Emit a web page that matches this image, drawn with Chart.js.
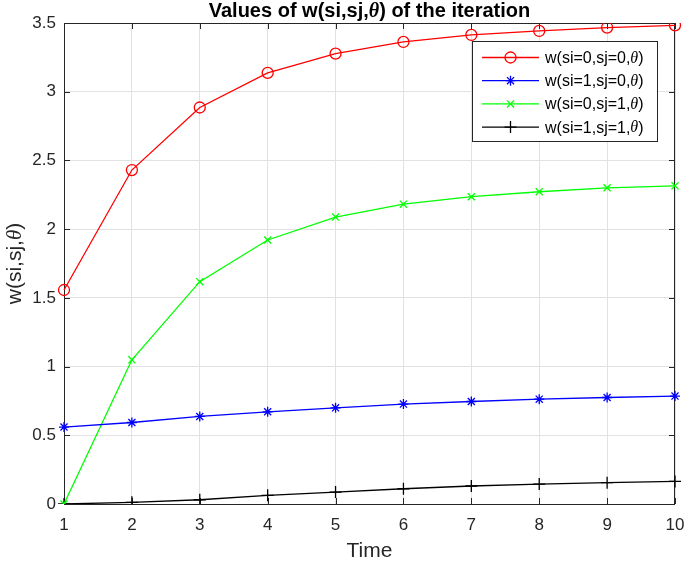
<!DOCTYPE html>
<html>
<head>
<meta charset="utf-8">
<script src="https://cdn.jsdelivr.net/npm/chart.js@4/dist/chart.umd.min.js"></script>
<style>
  body { margin: 0; background: #fff; }
  #wrap { width: 685px; height: 561px; }
</style>
</head>
<body>
<div id="wrap"><canvas id="chart" width="685" height="561"></canvas></div>
<script>
const timeSteps = [1, 2, 3, 4, 5, 6, 7, 8, 9, 10];
const w00 = [1.557, 2.43, 2.885, 3.137, 3.277, 3.362, 3.413, 3.442, 3.467, 3.483];
const w10 = [0.560, 0.593, 0.637, 0.671, 0.700, 0.727, 0.746, 0.763, 0.775, 0.785];
const w01 = [0, 1.049, 1.618, 1.921, 2.088, 2.182, 2.236, 2.272, 2.301, 2.315];
const w11 = [0, 0.012, 0.031, 0.063, 0.087, 0.111, 0.131, 0.145, 0.155, 0.164];
const seriesLabels = ['w(si=0,sj=0,θ)', 'w(si=1,sj=0,θ)', 'w(si=0,sj=1,θ)', 'w(si=1,sj=1,θ)'];
const yMin = 0, yMax = 3.5, yStep = 0.5;

const SANS = '"Liberation Sans", Arial, sans-serif';
const AXIS = '#262626';

// draw text with the theta in italic serif, like matlab's tex interpreter
function richText(ctx, text, x, y, size, bold, align) {
  const parts = text.split('θ');
  const plain = (bold ? 'bold ' : '') + size + 'px ' + SANS;
  const theta = 'italic ' + (bold ? 'bold ' : '') + size + 'px "Liberation Serif", serif';
  let total = 0;
  parts.forEach((p, i) => {
    ctx.font = plain; total += ctx.measureText(p).width;
    if (i < parts.length - 1) { ctx.font = theta; total += ctx.measureText('θ').width; }
  });
  let cx = align === 'center' ? x - total / 2 : x;
  ctx.textAlign = 'left';
  parts.forEach((p, i) => {
    ctx.font = plain; ctx.fillText(p, cx, y); cx += ctx.measureText(p).width;
    if (i < parts.length - 1) { ctx.font = theta; ctx.fillText('θ', cx, y); cx += ctx.measureText('θ').width; }
  });
}

const boxPlugin = {
  id: 'box',
  beforeDatasetsDraw(chart) {
    const { ctx, chartArea: a, scales: { x, y } } = chart;
    ctx.save();
    ctx.strokeStyle = AXIS;
    ctx.lineWidth = 1;
    ctx.strokeRect(a.left + 0.5, a.top + 0.5, a.right - a.left - 1, a.bottom - a.top);
    ctx.beginPath();
    x.ticks.forEach((t, i) => {
      const px = Math.round(x.getPixelForTick(i)) + 0.5;
      ctx.moveTo(px, a.bottom); ctx.lineTo(px, a.bottom - 6);
      ctx.moveTo(px, a.top); ctx.lineTo(px, a.top + 6);
    });
    y.ticks.forEach(t => {
      const py = Math.round(y.getPixelForValue(t.value)) + 0.5;
      ctx.moveTo(a.left, py); ctx.lineTo(a.left + 6, py);
      ctx.moveTo(a.right, py); ctx.lineTo(a.right - 6, py);
    });
    ctx.stroke();
    ctx.restore();
  },
  afterDraw(chart) {
    const { ctx, chartArea: a } = chart;
    ctx.save();
    ctx.fillStyle = '#000';
    ctx.textBaseline = 'alphabetic';
    richText(ctx, 'Values of w(si,sj,θ) of the iteration', (a.left + a.right) / 2, 17, 20, true, 'center');

    ctx.fillStyle = AXIS;
    ctx.font = '21px ' + SANS;
    ctx.textAlign = 'center';
    ctx.fillText('Time', (a.left + a.right) / 2, 557);

    ctx.save();
    ctx.translate(21, (a.top + a.bottom) / 2);
    ctx.rotate(-Math.PI / 2);
    richText(ctx, 'w(si,sj,θ)', 0, 0, 21, false, 'center');
    ctx.restore();

    // legend box inside the axes, top right
    const lx = 472, ly = 41, lw = 185, lh = 100;
    ctx.fillStyle = '#fff';
    ctx.fillRect(lx, ly, lw, lh);
    ctx.strokeStyle = AXIS;
    ctx.lineWidth = 1;
    ctx.strokeRect(lx + 0.5, ly + 0.5, lw, lh);
    chart.data.datasets.forEach((ds, i) => {
      const ry = 57.5 + i * 23.2;
      ctx.strokeStyle = ds.borderColor;
      ctx.lineWidth = ds.borderWidth;
      ctx.beginPath();
      ctx.moveTo(482, ry); ctx.lineTo(539, ry);
      ctx.stroke();
      ctx.fillStyle = 'rgba(0,0,0,0)';
      Chart.helpers.drawPoint(ctx, {
        pointStyle: ds.pointStyle, radius: ds.pointRadius, rotation: 0, borderWidth: ds.pointBorderWidth
      }, 510.5, ry);
      ctx.fillStyle = '#000';
      ctx.textBaseline = 'middle';
      richText(ctx, ds.label, 545, ry + 1, 16, false, 'left');
    });
    ctx.restore();
  }
};

function series(label, values, color, style, radius) {
  return {
    label: label,
    data: values,
    borderColor: color,
    backgroundColor: 'rgba(0,0,0,0)',
    pointBorderColor: color,
    pointBackgroundColor: 'rgba(0,0,0,0)',
    borderWidth: 1.3,
    pointStyle: style,
    pointRadius: radius,
    pointBorderWidth: 1.3,
    tension: 0
  };
}

new Chart(document.getElementById('chart'), {
  type: 'line',
  data: {
    labels: timeSteps,
    datasets: [
      series(seriesLabels[0], w00, '#ff0000', 'circle', 5.5),
      series(seriesLabels[1], w10, '#0000ff', 'star', 5),
      series(seriesLabels[2], w01, '#00ff00', 'crossRot', 5),
      series(seriesLabels[3], w11, '#000000', 'cross', 6)
    ]
  },
  options: {
    responsive: false,
    animation: false,
    layout: { padding: { top: 23, right: 0, left: 0, bottom: 0 } },
    plugins: { legend: { display: false }, tooltip: { enabled: false } },
    scales: {
      x: {
        type: 'category',
        offset: false,
        grid: { color: '#e2e2e2', drawTicks: false },
        border: { display: false },
        ticks: { color: AXIS, font: { family: SANS, size: 17 }, padding: 11, maxRotation: 0, autoSkip: false },
        afterFit(scale) {
          scale.height = 57;
          scale.paddingLeft = 0;
          scale.paddingRight = 10;
        }
      },
      y: {
        min: yMin,
        max: yMax,
        grid: { color: '#e2e2e2', drawTicks: false },
        border: { display: false },
        ticks: {
          stepSize: yStep, color: AXIS, font: { family: SANS, size: 17 }, padding: 8,
          callback: v => String(Number(v))
        },
        afterFit(scale) { scale.width = 64; }
      }
    }
  },
  plugins: [boxPlugin]
});
</script>
</body>
</html>
